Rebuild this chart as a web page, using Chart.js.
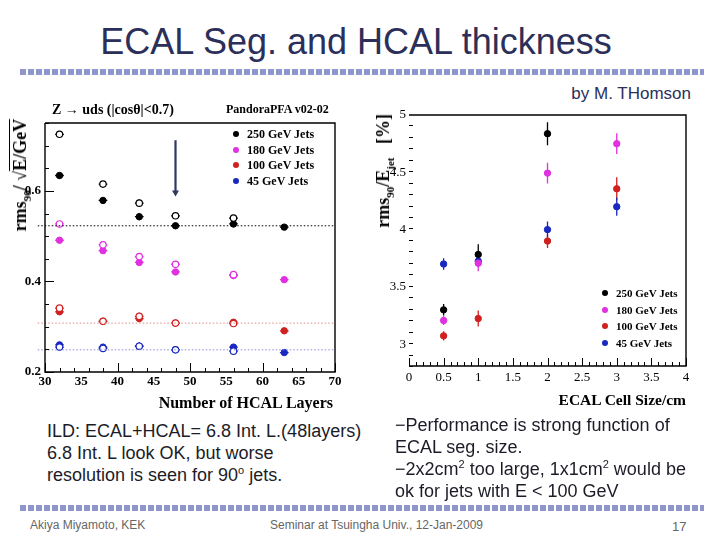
<!DOCTYPE html>
<html><head><meta charset="utf-8">
<script src="https://cdn.jsdelivr.net/npm/chart.js@4/dist/chart.umd.min.js"></script>
<style>
html,body{margin:0;padding:0;background:#fff;}
#page{position:relative;width:720px;height:540px;overflow:hidden;background:#fff;font-family:"Liberation Sans",Arial,sans-serif;}
.abs{position:absolute;white-space:nowrap;}
.dots{position:absolute;height:6px;background:repeating-linear-gradient(to right,#8e96cc 0 6px,transparent 6px 8px);}
.serifb{font-family:"Liberation Serif","Times New Roman",serif;font-weight:bold;color:#000;}
.leg span.m{display:inline-block;width:6px;height:6px;border-radius:50%;margin-right:8px;vertical-align:middle;position:relative;top:-1px;}
.body{font-size:18px;color:#1c1c28;line-height:22px;}
canvas{position:absolute;}
</style></head>
<body><div id="page">
<div class="abs" style="left:0;width:712px;top:21px;text-align:center;font-size:36px;line-height:42px;color:#2b2f5a;">ECAL Seg. and HCAL thickness</div>
<div class="dots" style="left:20px;width:684px;top:69px;"></div>
<div class="abs" style="right:29px;top:84px;font-size:17px;line-height:20px;color:#2b2f5a;">by M. THomson</div>

<canvas id="c1" width="360" height="320" style="left:0;top:95px;"></canvas>
<canvas id="c2" width="360" height="320" style="left:360px;top:95px;"></canvas>

<div class="abs serifb" style="left:52px;top:101px;font-size:14px;line-height:17px;">Z → uds (|cosθ|&lt;0.7)</div>
<div class="abs serifb" style="left:226px;top:102px;font-size:12px;line-height:15px;">PandoraPFA v02-02</div>
<div class="abs serifb" style="left:20px;top:119px;font-size:18px;line-height:20px;transform-origin:0 0;transform:translate(-10px,0) rotate(-90deg) translate(-100%,0);">rms<sub style="font-size:11px">90</sub>/ √<span style="text-decoration:overline">E/GeV</span></div>
<div class="abs serifb" style="right:387px;top:393px;font-size:16px;line-height:20px;">Number of HCAL Layers</div>

<div class="abs serifb leg" style="left:233px;top:127px;font-size:12px;line-height:15.5px;">
<div><span class="m" style="background:#000"></span>250 GeV Jets</div>
<div><span class="m" style="background:#e030e0"></span>180 GeV Jets</div>
<div><span class="m" style="background:#d02020"></span>100 GeV Jets</div>
<div><span class="m" style="background:#1828c0"></span>45 GeV Jets</div>
</div>

<div class="abs serifb" style="left:373px;top:114px;font-size:18px;line-height:20px;transform-origin:0 0;transform:rotate(-90deg) translate(-100%,0);">rms<sub style="font-size:11px">90</sub>/E<sub style="font-size:11px">jet</sub> &nbsp;&nbsp;[%]</div>
<div class="abs serifb" style="right:34px;top:390px;font-size:15.5px;line-height:20px;">ECAL Cell Size/cm</div>

<div class="abs serifb leg" style="left:602px;top:285px;font-size:11px;line-height:16.5px;">
<div><span class="m" style="background:#000"></span>250 GeV Jets</div>
<div><span class="m" style="background:#e030e0"></span>180 GeV Jets</div>
<div><span class="m" style="background:#d02020"></span>100 GeV Jets</div>
<div><span class="m" style="background:#1828c0"></span>45 GeV Jets</div>
</div>

<div class="abs body" style="left:47px;top:420px;">ILD: ECAL+HCAL= 6.8 Int. L.(48layers)<br>6.8 Int. L look OK, but worse<br>resolution is seen for 90<sup style="font-size:11px;line-height:0">o</sup> jets.</div>
<div class="abs body" style="left:395px;top:414px;">−Performance is strong function of<br>ECAL seg. size.<br>−2x2cm<sup style="font-size:11px;line-height:0">2</sup> too large, 1x1cm<sup style="font-size:11px;line-height:0">2</sup> would be<br>ok for jets with E &lt; 100 GeV</div>

<div class="dots" style="left:20px;width:684px;top:505px;"></div>
<div class="abs" style="left:30px;top:518px;font-size:12px;color:#666;">Akiya Miyamoto, KEK</div>
<div class="abs" style="left:270px;top:518px;font-size:12px;color:#666;">Seminar at Tsuingha Univ., 12-Jan-2009</div>
<div class="abs" style="left:672px;top:519px;font-size:13px;color:#666;">17</div>
</div>
<script>
// ---------- Left chart: resolution vs number of HCAL layers ----------
const hcalLayers = [32, 38, 43, 48, 56, 63];
const res250 = [0.634, 0.579, 0.543, 0.523, 0.527, 0.520];
const res180 = [0.491, 0.468, 0.442, 0.421, 0.413, 0.404];
const res100 = [0.333, 0.312, 0.318, 0.308, 0.310, 0.291];
const res45  = [0.260, 0.255, 0.257, 0.249, 0.255, 0.243];
const res250Open = [0.725, 0.615, 0.573, 0.545, 0.540, null];
const res180Open = [0.527, 0.481, 0.455, 0.438, 0.415, null];
const res100Open = [0.341, 0.312, 0.323, 0.308, 0.307, null];
const res45Open  = [0.255, 0.252, 0.257, 0.249, 0.246, null];
const refLevels = [0.523, 0.308, 0.249];
const hcalXErr = 0.6;
const hcalYErr = [0.006, 0.006, 0.008, 0.006, 0.007, 0.004];
const hcalXTicks = [30, 35, 40, 45, 50, 55, 60, 65, 70];
const hcalYTicks = [0.2, 0.4, 0.6];
const arrowX = 48, arrowTop = 0.712, arrowTip = 0.59;

// ---------- Right chart: resolution vs ECAL cell size ----------
const cellSize = [0.5, 1, 2, 3];
const ecal250 = [3.30, 3.783, 4.837, null];
const ecal180 = [3.207, 3.707, 4.493, 4.75];
const ecal100 = [3.073, 3.224, 3.90, 4.356];
const ecal45  = [3.70, 3.725, 4.00, 4.20];
const err250 = [0.05, 0.09, 0.10, null];
const err180 = [0.04, 0.07, 0.09, 0.09];
const err100 = [0.04, 0.07, 0.06, 0.10];
const err45  = [0.05, 0.05, 0.07, 0.08];
const ecalXErr = 0.04;
const ecalXTicks = [0, 0.5, 1, 1.5, 2, 2.5, 3, 3.5, 4];
const ecalYTicks = [3, 3.5, 4, 4.5, 5];

const C250 = '#000000', C180 = '#e030e0', C100 = '#d02020', C45 = '#1828c0';

function pts(xs, ys, ex, eys) {
  const out = [];
  xs.forEach((x, i) => { if (ys[i] != null) out.push({x: x, y: ys[i], ex: ex, ey: eys ? eys[i] : 0}); });
  return out;
}
function filled(label, data, col) {
  return {label, data, pointStyle:'circle', pointRadius:3.2, backgroundColor:col, borderColor:col, borderWidth:1, errCol:col};
}
function open(label, data, col) {
  return {label, data, pointStyle:'circle', pointRadius:3.2, backgroundColor:'#ffffff', borderColor:col, borderWidth:1.2, errCol:col};
}

const errorBars = {
  id: 'errorBars',
  beforeDatasetsDraw(chart) {
    const ctx = chart.ctx, xs = chart.scales.x, ys = chart.scales.y;
    ctx.save();
    chart.data.datasets.forEach(ds => {
      if (!ds.errCol) return;
      ctx.strokeStyle = ds.errCol; ctx.lineWidth = 1.3;
      ds.data.forEach(p => {
        const px = xs.getPixelForValue(p.x), py = ys.getPixelForValue(p.y);
        ctx.beginPath();
        if (p.ex) { ctx.moveTo(xs.getPixelForValue(p.x - p.ex), py); ctx.lineTo(xs.getPixelForValue(p.x + p.ex), py); }
        if (p.ey) { ctx.moveTo(px, ys.getPixelForValue(p.y - p.ey)); ctx.lineTo(px, ys.getPixelForValue(p.y + p.ey)); }
        ctx.stroke();
      });
    });
    ctx.restore();
  }
};

function framePlugin(cfg) {
  return {
    id: 'frame',
    afterDraw(chart) {
      const ctx = chart.ctx, a = chart.chartArea, xs = chart.scales.x, ys = chart.scales.y;
      ctx.save();
      ctx.strokeStyle = '#000'; ctx.lineWidth = 1.4;
      ctx.beginPath();
      ctx.moveTo(a.left, a.top); ctx.lineTo(a.right, a.top); ctx.lineTo(a.right, a.bottom); ctx.lineTo(a.left, a.bottom);
      if (cfg.leftLine) ctx.lineTo(a.left, a.top);
      ctx.stroke();
      ctx.lineWidth = 1;
      ctx.beginPath();
      for (let v = xs.min; v <= xs.max + 1e-9; v += cfg.xMinor) {
        const isMaj = Math.abs(v / cfg.xMajor - Math.round(v / cfg.xMajor)) < 1e-6;
        const px = Math.round(xs.getPixelForValue(v)) + 0.5;
        ctx.moveTo(px, a.bottom); ctx.lineTo(px, a.bottom - (isMaj ? cfg.majLen : cfg.minLen));
      }
      for (let v = ys.min; v <= ys.max + 1e-9; v += cfg.yMinor) {
        const isMaj = Math.abs(v / cfg.yMajor - Math.round(v / cfg.yMajor)) < 1e-6;
        const py = Math.round(ys.getPixelForValue(v)) + 0.5;
        ctx.moveTo(a.left, py); ctx.lineTo(a.left + (isMaj ? cfg.majLen : cfg.minLen), py);
      }
      ctx.stroke();
      if (cfg.arrow) {
        const ax = xs.getPixelForValue(arrowX), at = ys.getPixelForValue(arrowTop), ap = ys.getPixelForValue(arrowTip);
        ctx.strokeStyle = '#2c3a5e'; ctx.fillStyle = '#2c3a5e'; ctx.lineWidth = 2.2;
        ctx.beginPath(); ctx.moveTo(ax, at); ctx.lineTo(ax, ap - 4); ctx.stroke();
        ctx.beginPath(); ctx.moveTo(ax - 3.5, ap - 5); ctx.lineTo(ax + 3.5, ap - 5); ctx.lineTo(ax, ap + 1); ctx.closePath(); ctx.fill();
      }
      ctx.restore();
    }
  };
}

const refColors = ['#000000', '#e08a8a', '#8a8ad8'];
const refDatasets = refLevels.map((lv, i) => ({
  type: 'line', label: 'ref' + i, data: [{x: 29, y: lv}, {x: 70, y: lv}],
  borderColor: refColors[i], borderWidth: 1, borderDash: [1.5, 2], pointRadius: 0, clip: false
}));

new Chart(document.getElementById('c1'), {
  type: 'scatter',
  data: { datasets: [
    ...refDatasets,
    open('250 open', pts(hcalLayers, res250Open, hcalXErr, hcalYErr), C250),
    open('180 open', pts(hcalLayers, res180Open, hcalXErr, hcalYErr), C180),
    open('100 open', pts(hcalLayers, res100Open, hcalXErr, hcalYErr), C100),
    open('45 open',  pts(hcalLayers, res45Open,  hcalXErr, hcalYErr), C45),
    filled('250 GeV Jets', pts(hcalLayers, res250, hcalXErr, hcalYErr), C250),
    filled('180 GeV Jets', pts(hcalLayers, res180, hcalXErr, hcalYErr), C180),
    filled('100 GeV Jets', pts(hcalLayers, res100, hcalXErr, hcalYErr), C100),
    filled('45 GeV Jets',  pts(hcalLayers, res45,  hcalXErr, hcalYErr), C45)
  ]},
  options: {
    responsive: false, animation: false, devicePixelRatio: 1,
    layout: { padding: { left: 0, top: 28, right: 25, bottom: 0 } },
    plugins: { legend: { display: false }, tooltip: { enabled: false } },
    scales: {
      x: { type: 'linear', min: 30, max: 70,
        afterBuildTicks: s => { s.ticks = hcalXTicks.map(v => ({value: v})); },
        afterFit: s => { s.height = 43; },
        grid: { display: false, drawTicks: false }, border: { display: false },
        ticks: { color: '#000', padding: 2, maxRotation: 0, autoSkip: false, callback: v => String(v), font: { family: 'Liberation Serif', weight: 'bold', size: 13 } } },
      y: { type: 'linear', min: 0.2, max: 0.75,
        afterBuildTicks: s => { s.ticks = hcalYTicks.map(v => ({value: v})); },
        afterFit: s => { s.width = 45; },
        grid: { display: false, drawTicks: false }, border: { display: false },
        ticks: { color: '#000', padding: 4, autoSkip: false, callback: v => v.toFixed(1), font: { family: 'Liberation Serif', weight: 'bold', size: 13 } } }
    }
  },
  plugins: [errorBars, framePlugin({leftLine: true, xMinor: 2, xMajor: 10, yMinor: 0.05, yMajor: 0.2, majLen: 9, minLen: 4, arrow: true})]
});

new Chart(document.getElementById('c2'), {
  type: 'scatter',
  data: { datasets: [
    filled('250 GeV Jets', pts(cellSize, ecal250, ecalXErr, err250), C250),
    filled('180 GeV Jets', pts(cellSize, ecal180, ecalXErr, err180), C180),
    filled('100 GeV Jets', pts(cellSize, ecal100, ecalXErr, err100), C100),
    filled('45 GeV Jets',  pts(cellSize, ecal45,  ecalXErr, err45),  C45)
  ]},
  options: {
    responsive: false, animation: false, devicePixelRatio: 1,
    layout: { padding: { left: 0, top: 20, right: 34, bottom: 0 } },
    plugins: { legend: { display: false }, tooltip: { enabled: false } },
    scales: {
      x: { type: 'linear', min: 0, max: 4,
        afterBuildTicks: s => { s.ticks = ecalXTicks.map(v => ({value: v})); },
        afterFit: s => { s.height = 49; },
        grid: { display: false, drawTicks: false }, border: { display: false },
        ticks: { color: '#000', padding: 4, maxRotation: 0, autoSkip: false, callback: v => String(v), font: { family: 'Liberation Serif', size: 13 } } },
      y: { type: 'linear', min: 2.81, max: 5,
        afterBuildTicks: s => { s.ticks = ecalYTicks.map(v => ({value: v})); },
        afterFit: s => { s.width = 49; },
        grid: { display: false, drawTicks: false }, border: { display: false },
        ticks: { color: '#000', padding: 3, autoSkip: false, callback: v => String(v), font: { family: 'Liberation Serif', size: 13 } } }
    }
  },
  plugins: [errorBars, framePlugin({leftLine: false, xMinor: 0.1, xMajor: 0.5, yMinor: 0.1, yMajor: 0.5, majLen: 8, minLen: 4, arrow: false})]
});
</script>
</body></html>
